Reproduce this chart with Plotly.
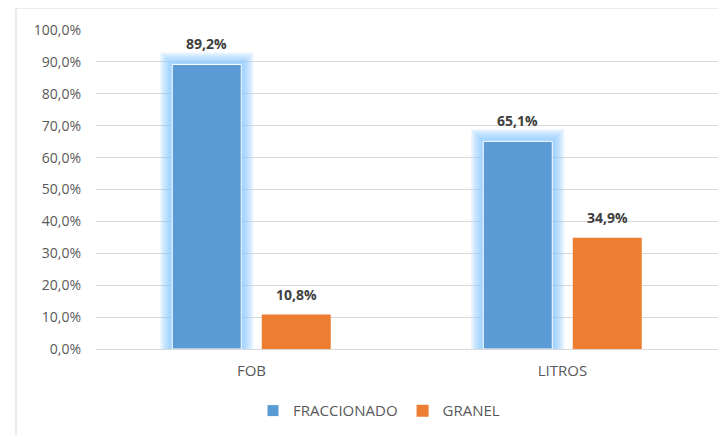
import plotly.graph_objects as go

categories = ["FOB", "LITROS"]
fraccionado = [89.2, 65.1]
granel = [10.8, 34.9]
series_names = ["FRACCIONADO", "GRANEL"]
tick_vals = [0, 10, 20, 30, 40, 50, 60, 70, 80, 90, 100]

BLUE = "#5B9BD5"
ORANGE = "#ED7D31"
FONT = "Open Sans, Lato, sans-serif"

# layout geometry (pixels) - figure is placed at an 8px page offset
L, R, T, B = 88, 8, 22, 86
W, H = 718, 427
plot_w = W - L - R
plot_h = H - T - B
px_x = 1.0 / (plot_w / 2)      # category units per pixel (2 categories)
px_y = 100.0 / plot_h          # data units per pixel

bar_w = 69 * px_x
half_sep = 44.75 * px_x
blue_off = -half_sep - bar_w / 2
orange_off = half_sep - bar_w / 2

def fmt(v):
    return f"{v:.1f}".replace(".", ",") + "%"

fig = go.Figure()

# glow layers behind blue bars
for k in range(12, 0, -2):
    fig.add_trace(go.Bar(
        x=categories,
        y=[v + k * px_y for v in fraccionado],
        width=bar_w + 2 * k * px_x,
        offset=blue_off - k * px_x,
        marker=dict(color="rgba(130,195,255,0.19)", line=dict(width=0)),
        showlegend=False, hoverinfo="skip",
    ))

fig.add_trace(go.Bar(
    x=categories, y=fraccionado, name=series_names[0],
    width=bar_w, offset=blue_off,
    marker=dict(color=BLUE, line=dict(color="white", width=1)),
))
fig.add_trace(go.Bar(
    x=categories, y=granel, name=series_names[1],
    width=bar_w, offset=orange_off,
    marker=dict(color=ORANGE, line=dict(width=0)),
))

annotations = []
for i, c in enumerate(categories):
    for vals, off in ((fraccionado, blue_off), (granel, orange_off)):
        annotations.append(dict(
            x=i + off + bar_w / 2, y=vals[i], xref="x", yref="y",
            text=f"<b>{fmt(vals[i])}</b>", showarrow=False,
            yanchor="bottom", yshift=9,
            font=dict(family=FONT, size=14, color="#404040"),
        ))

fig.update_layout(
    width=W, height=H,
    margin=dict(l=L, r=R, t=T, b=B),
    barmode="overlay",
    plot_bgcolor="white", paper_bgcolor="white",
    font=dict(family=FONT, size=13, color="#595959"),
    annotations=annotations,
    legend=dict(orientation="h", x=0.455, xanchor="center", y=-0.194, yanchor="middle",
                font=dict(size=15, color="#595959"), traceorder="normal",
                itemwidth=30),
    shapes=[dict(type="rect", xref="paper", yref="paper",
                 x0=-(L - 8) / plot_w, x1=1 + (R + 20) / plot_w,
                 y0=-(B + 20) / plot_h, y1=1 + T / plot_h,
                 line=dict(color="#d9d9d9", width=1), layer="below")],
)
fig.update_xaxes(type="category", range=[-0.5, 1.5], showgrid=False, showline=False,
                 ticks="", tickfont=dict(size=15, color="#595959"), ticklabelstandoff=11)
fig.update_yaxes(range=[0, 100], tickvals=tick_vals, ticktext=[fmt(v) for v in tick_vals],
                 showgrid=True, gridcolor="#d9d9d9", gridwidth=1, zeroline=True,
                 zerolinecolor="#d9d9d9", zerolinewidth=1, showline=False,
                 tickfont=dict(size=14, color="#595959"), ticklabelstandoff=14)

fig.write_html("out.html")
